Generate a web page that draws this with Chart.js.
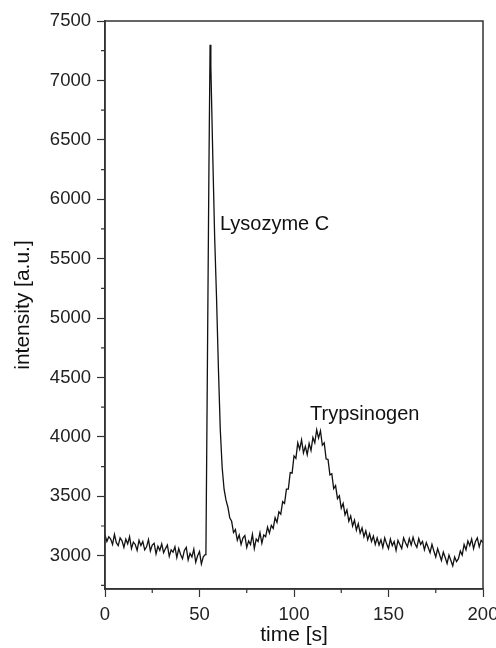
<!DOCTYPE html>
<html>
<head>
<meta charset="utf-8">
<script src="https://cdn.jsdelivr.net/npm/chart.js@4.4.0/dist/chart.umd.min.js"></script>
<style>
  html, body { margin: 0; padding: 0; background: #fff; }
</style>
</head>
<body>
<canvas id="trace" width="496" height="648"></canvas>
<script>
// retention times [s]
const time = [
  0, 1, 2, 3, 4, 5, 6, 7, 8, 9, 10, 11, 12, 13, 14, 15, 16, 17, 18, 19,
  20, 21, 22, 23, 24, 25, 26, 27, 28, 29, 30, 31, 32, 33, 34, 35, 36, 37, 38, 39,
  40, 41, 42, 43, 44, 45, 46, 47, 48, 49, 50, 51, 52, 53,
  53.4, 54, 55, 55.6, 56, 57, 58, 59, 60, 61, 62, 63, 64, 65, 66,
  67, 68, 69, 70, 71, 72, 73, 74, 75, 76, 77, 78, 79, 80, 81, 82, 83, 84, 85, 86,
  87, 88, 89, 90, 91, 92, 93, 94, 95, 96, 97, 98, 99, 100, 101, 102, 103, 104, 105, 106,
  107, 108, 109, 110, 111, 112, 113, 114, 115, 116, 117, 118, 119, 120, 121, 122, 123, 124, 125, 126,
  127, 128, 129, 130, 131, 132, 133, 134, 135, 136, 137, 138, 139, 140, 141, 142, 143, 144, 145, 146,
  147, 148, 149, 150, 151, 152, 153, 154, 155, 156, 157, 158, 159, 160, 161, 162, 163, 164, 165, 166,
  167, 168, 169, 170, 171, 172, 173, 174, 175, 176, 177, 178, 179, 180, 181, 182, 183, 184, 185, 186,
  187, 188, 189, 190, 191, 192, 193, 194, 195, 196, 197, 198, 199, 200
];

// detector signal [a.u.]
const intensity = [
  3175, 3120, 3160, 3140, 3095, 3180, 3110, 3085, 3150, 3125,
  3070, 3140, 3100, 3160, 3060, 3115, 3095, 3045, 3130, 3085,
  3120, 3050, 3075, 3135, 3040, 3090, 3105, 3015, 3080, 3045,
  3100, 3025, 3060, 3090, 2995, 3050, 3030, 3075, 2985, 3060,
  3010, 2975, 3045, 3070, 2965, 3020, 2990, 3055, 2945, 3000,
  3035, 2930, 2990, 3010,
  3020, 4230, 6280, 7300, 7120, 6380, 5690, 5180, 4580, 4060, 3740, 3560, 3470, 3410, 3320,
  3290, 3195, 3220, 3130, 3175, 3095, 3150, 3170, 3070, 3125,
  3095, 3180, 3060, 3140, 3120, 3195, 3105, 3175, 3160, 3240,
  3190, 3255, 3230, 3320, 3280, 3370, 3350, 3455, 3440, 3560,
  3560, 3700, 3695, 3840, 3820, 3950, 3895, 3975, 3865, 3920,
  3850, 3945, 3885, 3995, 3950, 4060, 3990, 4050, 3930, 3950,
  3815, 3810, 3680, 3690, 3565, 3590, 3480, 3505, 3400, 3440,
  3345, 3385, 3290, 3335, 3250, 3300, 3215, 3270, 3190, 3235,
  3160, 3210, 3135, 3185, 3120, 3165, 3095, 3150, 3090, 3135,
  3070, 3150, 3100, 3060, 3140, 3085, 3120, 3045, 3130, 3095,
  3060, 3150, 3110, 3075, 3145, 3090, 3155, 3100, 3070, 3145,
  3095, 3120, 3050, 3110, 3070, 3025, 3095, 3040, 2990, 3060,
  3010, 2960, 3030, 2985, 2935, 3005, 2960, 2915, 2990, 2950,
  2975, 3040, 3005, 3095, 3050, 3125, 3085, 3140, 3060, 3120,
  3150, 3075, 3130, 3110
];

// axis ticks (labelled every 50 s / 500 a.u., unlabelled in between)
const xTicks = [0, 25, 50, 75, 100, 125, 150, 175, 200];
const yTicks = [2750, 3000, 3250, 3500, 3750, 4000, 4250, 4500, 4750, 5000,
  5250, 5500, 5750, 6000, 6250, 6500, 6750, 7000, 7250, 7500];

// peak names and where they are written (data coordinates)
const peakNames = ['Lysozyme C', 'Trypsinogen'];
const peakLabelTime = [60.8, 108.5];
const peakLabelIntensity = [5745, 4140];

const axisColor = '#333';
const FONT = '"Liberation Sans", Arial, Helvetica, sans-serif';

// closed frame, minor ticks and peak names
const framePlugin = {
  id: 'frame',
  afterDraw(chart) {
    const { ctx, chartArea: a, scales } = chart;
    ctx.save();
    ctx.strokeStyle = axisColor;
    ctx.lineWidth = 1.5;
    ctx.strokeRect(a.left, a.top, a.right - a.left, a.bottom - a.top);

    ctx.lineWidth = 1.2;
    ctx.beginPath();
    scales.x.ticks.forEach(t => {
      if (t.value % 50 !== 0) {
        const px = scales.x.getPixelForValue(t.value);
        ctx.moveTo(px, a.bottom);
        ctx.lineTo(px, a.bottom + 4);
      }
    });
    scales.y.ticks.forEach(t => {
      if (t.value % 500 !== 0) {
        const py = scales.y.getPixelForValue(t.value);
        ctx.moveTo(a.left, py);
        ctx.lineTo(a.left - 4, py);
      }
    });
    ctx.stroke();

    ctx.fillStyle = '#111';
    ctx.font = '20px ' + FONT;
    ctx.textAlign = 'left';
    ctx.textBaseline = 'alphabetic';
    peakNames.forEach((name, i) => {
      ctx.fillText(name,
        scales.x.getPixelForValue(peakLabelTime[i]),
        scales.y.getPixelForValue(peakLabelIntensity[i]));
    });
    ctx.restore();
  }
};

const ctx = document.getElementById('trace').getContext('2d');
const chart = new Chart(ctx, {
  type: 'line',
  data: {
    datasets: [{
      data: time.map((t, i) => ({ x: t, y: intensity[i] })),
      borderColor: '#111',
      borderWidth: 1.3,
      pointRadius: 0,
      tension: 0,
      fill: false
    }]
  },
  options: {
    responsive: false,
    animation: false,
    layout: { padding: { top: 21, right: 13, left: 0, bottom: 0 } },
    plugins: {
      legend: { display: false },
      tooltip: { enabled: false }
    },
    scales: {
      x: {
        type: 'linear',
        min: 0,
        max: 200,
        afterBuildTicks(scale) {
          scale.ticks = xTicks.map(v => ({ value: v }));
        },
        afterFit(scale) {
          scale.height = 59;
          scale.paddingLeft = 0;
          scale.paddingRight = 0;
        },
        ticks: {
          autoSkip: false,
          maxRotation: 0,
          padding: 7,
          color: '#222',
          font: { family: FONT, size: 18.5 },
          callback: v => (v % 50 === 0 ? v : '')
        },
        grid: {
          drawOnChartArea: false,
          tickLength: 8,
          tickWidth: 1.2,
          tickColor: c => (c.tick && c.tick.value % 50 === 0 ? axisColor : 'rgba(0,0,0,0)')
        },
        border: { color: axisColor, width: 1.5 },
        title: {
          display: true,
          text: 'time [s]',
          color: '#111',
          font: { family: FONT, size: 21 },
          padding: { top: 0, bottom: 0 }
        }
      },
      y: {
        min: 2720,
        max: 7500,
        afterBuildTicks(scale) {
          scale.ticks = yTicks.map(v => ({ value: v }));
        },
        afterFit(scale) {
          scale.width = 105;
          scale.paddingTop = 0;
          scale.paddingBottom = 0;
        },
        ticks: {
          autoSkip: false,
          padding: 6,
          color: '#222',
          font: { family: FONT, size: 18.5 },
          callback: v => (v % 500 === 0 ? v : '')
        },
        grid: {
          drawOnChartArea: false,
          tickLength: 8,
          tickWidth: 1.2,
          tickColor: c => (c.tick && c.tick.value % 500 === 0 ? axisColor : 'rgba(0,0,0,0)')
        },
        border: { color: axisColor, width: 1.5 },
        title: {
          display: true,
          text: 'intensity [a.u.]',
          color: '#111',
          font: { family: FONT, size: 21 },
          padding: { top: 11, bottom: 0 }
        }
      }
    }
  },
  plugins: [framePlugin]
});
</script>
</body>
</html>
